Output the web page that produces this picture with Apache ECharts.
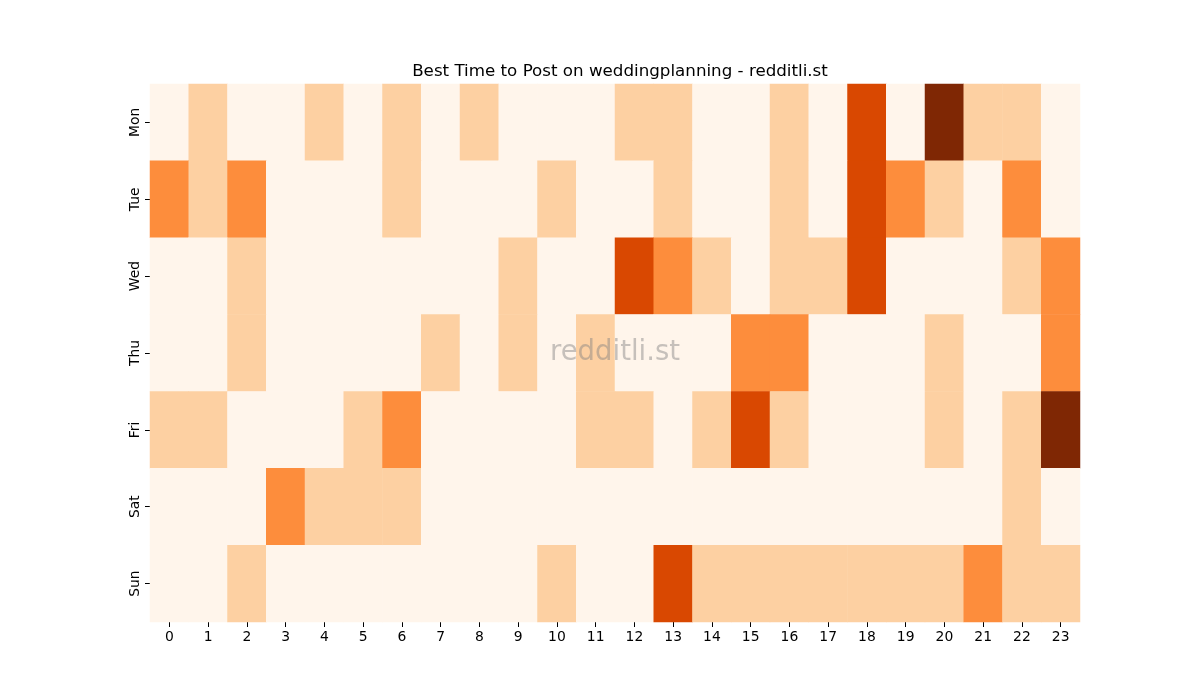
<!DOCTYPE html>
<html>
<head>
<meta charset="utf-8">
<script src="https://cdn.jsdelivr.net/npm/echarts@6/dist/echarts.min.js"></script>
<style>
  html, body { margin: 0; padding: 0; background: #fff; }
  #chart { width: 1200px; height: 700px; }
</style>
</head>
<body>
<div id="chart"></div>
<script>
// Hours across, weekdays down (Mon at top).
const hours = ["0","1","2","3","4","5","6","7","8","9","10","11","12","13","14","15","16","17","18","19","20","21","22","23"];
const days = ["Mon", "Tue", "Wed", "Thu", "Fri", "Sat", "Sun"];

// Activity level per hour, one row per day (0..4).
const mon = [0,1,0,0,1,0,1,0,1,0,0,0,1,1,0,0,1,0,3,0,4,1,1,0];
const tue = [2,1,2,0,0,0,1,0,0,0,1,0,0,1,0,0,1,0,3,2,1,0,2,0];
const wed = [0,0,1,0,0,0,0,0,0,1,0,0,3,2,1,0,1,1,3,0,0,0,1,2];
const thu = [0,0,1,0,0,0,0,1,0,1,0,1,0,0,0,2,2,0,0,0,1,0,0,2];
const fri = [1,1,0,0,0,1,2,0,0,0,0,1,1,0,1,3,1,0,0,0,1,0,1,4];
const sat = [0,0,0,2,1,1,1,0,0,0,0,0,0,0,0,0,0,0,0,0,0,0,1,0];
const sun = [0,0,1,0,0,0,0,0,0,0,1,0,0,3,1,1,1,1,1,1,1,2,1,1];

const levelColors = ["#fff5eb", "#fdd0a2", "#fd8d3c", "#d94801", "#7f2704"];

const rows = [mon, tue, wed, thu, fri, sat, sun];
const cells = [];
rows.forEach((row, d) => row.forEach((v, h) => cells.push([h, d, v])));

const font = "DejaVu Sans";
const chart = echarts.init(document.getElementById("chart"), null, { renderer: "canvas" });

chart.setOption({
  backgroundColor: "#ffffff",
  animation: false,
  title: {
    text: "Best Time to Post on weddingplanning - redditli.st",
    left: 615,
    textAlign: "center",
    top: 58,
    textStyle: { fontFamily: font, fontSize: 16.7, fontWeight: "normal", color: "#000" },
  },
  grid: { left: 150, right: 120, top: 84, bottom: 78 },
  xAxis: {
    type: "category",
    data: hours,
    axisLine: { show: false },
    axisTick: { show: true, alignWithLabel: true, length: 5, lineStyle: { color: "#000" } },
    axisLabel: { fontFamily: font, fontSize: 13.9, color: "#000", margin: 8, interval: 0 },
    splitLine: { show: false },
  },
  yAxis: {
    type: "category",
    data: days,
    inverse: true,
    axisLine: { show: false },
    axisTick: { show: true, alignWithLabel: true, length: 5, lineStyle: { color: "#000" } },
    axisLabel: { fontFamily: font, fontSize: 13.9, color: "#000", rotate: 90, margin: 8 },
    splitLine: { show: false },
  },
  visualMap: {
    type: "piecewise",
    show: false,
    dimension: 2,
    pieces: levelColors.map((c, i) => ({ value: i, color: c })),
  },
  series: [{
    type: "heatmap",
    data: cells,
    itemStyle: { borderWidth: 0 },
    emphasis: { disabled: true },
  }],
  graphic: [{
    type: "text",
    x: 615,
    y: 353,
    z: 100,
    style: {
      text: "redditli.st",
      align: "center",
      verticalAlign: "middle",
      fontFamily: font,
      fontSize: 27.5,
      fill: "rgba(128,128,128,0.45)",
    },
  }],
});
</script>
</body>
</html>
